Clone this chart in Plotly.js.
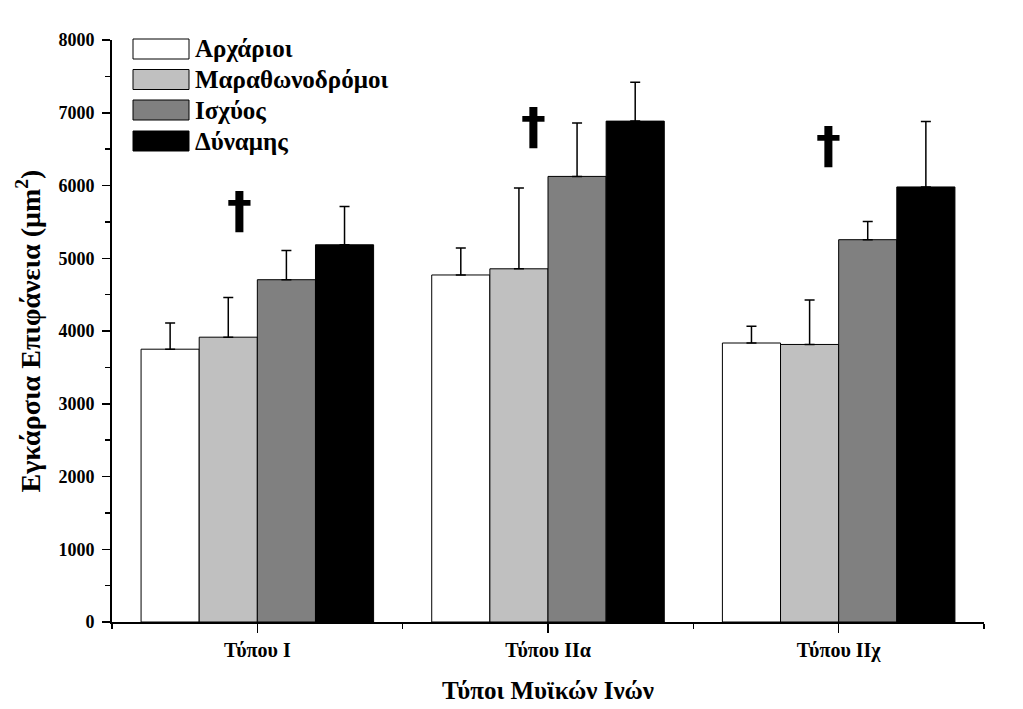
<!DOCTYPE html>
<html><head><meta charset="utf-8">
<script src="https://cdn.plot.ly/plotly-3.0.1.min.js"></script>
<style>html,body{margin:0;padding:0;background:#fff}</style>
</head><body><div id="chart" style="width:1023px;height:709px"></div>
<script>
// ---- data ----
const categories = ['Τύπου I', 'Τύπου IIα', 'Τύπου IIχ'];
const seriesNames = ['Αρχάριοι', 'Μαραθωνοδρόμοι', 'Ισχύος', 'Δύναμης'];
const archarioi = [3750, 4770, 3835];
const archarioiErr = [360, 370, 230];
const marathon = [3915, 4855, 3815];
const marathonErr = [545, 1110, 610];
const ischys = [4705, 6125, 5255];
const ischysErr = [400, 735, 250];
const dynamis = [5185, 6885, 5980];
const dynamisErr = [525, 535, 900];
const daggerLabel = '†';
const yTickVals = [0, 1000, 2000, 3000, 4000, 5000, 6000, 7000, 8000];

// ---- styling ----
const colors = ['#ffffff', '#c0c0c0', '#808080', '#000000'];
const FONT = 'Liberation Serif, Times New Roman, serif';
const W = 1023, H = 709;
const M = {l: 112, r: 39, t: 40, b: 87};
const px2x = p => (p - M.l) / (W - M.l - M.r);
const py2y = p => (H - M.b - p) / (H - M.t - M.b);

const values = [archarioi, marathon, ischys, dynamis];
const errs = [archarioiErr, marathonErr, ischysErr, dynamisErr];
const xIdx = categories.map((c, i) => i);

const traces = values.map((v, k) => ({
  type: 'bar',
  name: seriesNames[k],
  x: xIdx,
  y: v,
  marker: {color: colors[k], line: {color: '#000', width: 1}},
  error_y: {type: 'data', symmetric: false, array: errs[k], arrayminus: v.map(() => 0),
            color: '#000', thickness: 1.5, width: 5},
  showlegend: false,
  hoverinfo: 'y'
}));

// custom legend (wide boxes like original)
const shapes = [];
const annotations = [];
const legRows = [49, 79.5, 110, 141];
seriesNames.forEach((n, k) => {
  const cy = legRows[k];
  shapes.push({type: 'rect', xref: 'paper', yref: 'paper',
    x0: px2x(133), x1: px2x(189), y0: py2y(cy - 10), y1: py2y(cy + 10),
    fillcolor: colors[k], line: {color: '#000', width: 1}});
  annotations.push({xref: 'paper', yref: 'paper', x: px2x(193), y: py2y(cy),
    xanchor: 'left', yanchor: 'middle', showarrow: false, text: n,
    font: {family: FONT, size: 25, color: '#000', weight: 'bold'}});
});

// significance daggers
const daggerX = [-0.06, 0.95, 1.966];
const daggerY = [5660, 6820, 6560];
daggerX.forEach((x, i) => {
  annotations.push({xref: 'x', yref: 'y', x: x, y: daggerY[i], text: daggerLabel,
    showarrow: false, xanchor: 'center', yanchor: 'middle',
    font: {family: 'DejaVu Sans', size: 50, color: '#000', weight: 'bold'}});
});

const layout = {
  width: W, height: H,
  margin: M,
  paper_bgcolor: '#fff', plot_bgcolor: '#fff',
  barmode: 'group', bargap: 0.2, bargroupgap: 0,
  showlegend: false,
  font: {family: FONT, color: '#000'},
  xaxis: {
    range: [-0.5, 2.5], tickmode: 'array', tickvals: xIdx, ticktext: categories,
    ticks: 'outside', ticklen: 9, tickwidth: 1.5, tickcolor: '#000',
    showline: true, linecolor: '#000', linewidth: 2, showgrid: false, zeroline: false,
    minor: {tickmode: 'array', tickvals: [-0.5, 0.5, 1.5, 2.5], ticks: 'outside', ticklen: 5, tickwidth: 1.5, tickcolor: '#000', showgrid: false},
    tickfont: {family: FONT, size: 20, color: '#000', weight: 'bold'},
    ticklabelstandoff: 0,
    title: {text: 'Τύποι Μυϊκών Ινών', font: {family: FONT, size: 25, color: '#000', weight: 'bold'}, standoff: 20}
  },
  yaxis: {
    range: [0, 8000], tickmode: 'array', tickvals: yTickVals,
    ticks: 'outside', ticklen: 8, tickwidth: 1.5, tickcolor: '#000',
    showline: true, linecolor: '#000', linewidth: 2, showgrid: false, zeroline: false,
    minor: {tickmode: 'linear', tick0: 500, dtick: 1000, ticks: 'outside', ticklen: 5, tickwidth: 1.5, tickcolor: '#000', showgrid: false},
    tickfont: {family: FONT, size: 18, color: '#000', weight: 'bold'},
    ticklabelstandoff: 4,
    title: {text: 'Εγκάρσια Επιφάνεια (μm<sup>2</sup>)', font: {family: FONT, size: 28, color: '#000', weight: 'bold'}, standoff: 10}
  },
  shapes: shapes,
  annotations: annotations
};

Plotly.newPlot('chart', traces, layout, {staticPlot: true, displayModeBar: false});
</script>
</body></html>
